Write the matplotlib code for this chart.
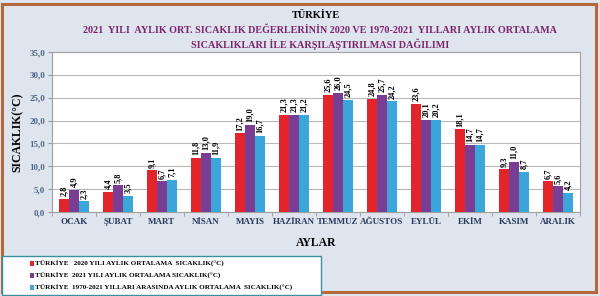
import matplotlib
matplotlib.use("Agg")
import matplotlib.pyplot as plt
from matplotlib.patches import Rectangle
import numpy as np

months = ["OCAK", "ŞUBAT", "MART", "NİSAN", "MAYIS", "HAZİRAN", "TEMMUZ",
          "AĞUSTOS", "EYLÜL", "EKİM", "KASIM", "ARALIK"]
t2020 = [2.8, 4.4, 9.1, 11.8, 17.2, 21.3, 25.6, 24.8, 23.6, 18.1, 9.3, 6.7]
t2021 = [4.9, 5.8, 6.7, 13.0, 19.0, 21.3, 26.0, 25.7, 20.1, 14.7, 11.0, 5.6]
tavg = [2.3, 3.5, 7.1, 11.9, 16.7, 21.2, 24.5, 24.2, 20.2, 14.7, 8.7, 4.2]
series_labels = ["TÜRKİYE   2020 YILI AYLIK ORTALAMA  SICAKLIK(°C)",
                 "TÜRKİYE  2021 YILI AYLIK ORTALAMA SICAKLIK(°C)",
                 "TÜRKİYE  1970-2021 YILLARI ARASINDA AYLIK ORTALAMA  SICAKLIK(°C)"]
colors = ["#e3242b", "#7a3d94", "#3aa6d9"]
yticks = [0, 5, 10, 15, 20, 25, 30, 35]

plt.rcParams['font.family'] = ['Liberation Serif', 'DejaVu Serif']

W, H = 600, 296
fig = plt.figure(figsize=(6, 2.96), dpi=100, facecolor="#dfe5ef")
fig.patches.append(Rectangle((0.004, 0.012), 0.99, 0.975, transform=fig.transFigure,
                             fill=False, edgecolor="#b5693a", linewidth=2.2))

ax = fig.add_axes([52 / W, 1 - 212 / H, (580 - 52) / W, (212 - 52) / H])
ax.set_facecolor("white")
x = np.arange(len(months))
bw = 0.23
for i, (vals, c) in enumerate(zip([t2020, t2021, tavg], colors)):
    pos = x + (i - 1) * bw
    ax.bar(pos, vals, width=bw, color=c, label=series_labels[i], zorder=3)
    for p, v in zip(pos, vals):
        ax.text(p, v + 0.6, f"{v:.1f}".replace(".", ","), rotation=90, ha="center",
                va="bottom", fontsize=6, fontweight="bold", color="black", zorder=4)

ax.set_xlim(-0.5, len(months) - 0.5)
ax.set_ylim(0, 35)
ax.set_yticks(yticks)
ax.set_yticklabels([f"{v:.1f}".replace(".", ",") for v in yticks], fontsize=6.5,
                   fontweight="bold", color="#4f6688")
ax.set_xticks(x)
ax.set_xticklabels(months, fontsize=6.5, fontweight="bold", color="#2a3a5a")
ax.set_xticks(np.arange(-0.5, len(months)), minor=True)
ax.tick_params(axis="x", which="major", length=0, pad=4)
ax.tick_params(axis="x", which="minor", length=3, color="#999999")
ax.tick_params(axis="y", length=3, color="#999999", pad=2)
ax.grid(axis="y", color="#b8b8b8", linewidth=0.8, zorder=0)
for s in ax.spines.values():
    s.set_color("#a0a0a0")
    s.set_linewidth(0.8)

ax.set_ylabel("SICAKLIK(°C)", fontsize=8.5, fontweight="bold", color="black", labelpad=4)
fig.text(316 / W, 1 - 243 / H, "AYLAR", ha="center", va="center", fontsize=8.5,
         fontweight="bold", color="black")

fig.text(316 / W, 1 - 15 / H, "TÜRKİYE", ha="center", va="center", fontsize=7.5,
         fontweight="bold", color="black")
fig.text(320 / W, 1 - 30 / H,
         "2021  YILI  AYLIK ORT. SICAKLIK DEĞERLERİNİN 2020 VE 1970-2021  YILLARI AYLIK ORTALAMA",
         ha="center", va="center", fontsize=7.3, fontweight="bold", color="#7b2468")
fig.text(320 / W, 1 - 44 / H, "SICAKLIKLARI İLE KARŞILAŞTIRILMASI DAĞILIMI",
         ha="center", va="center", fontsize=7.3, fontweight="bold", color="#7b2468")

# legend box
fig.patches.append(Rectangle((2 / W, 1 - 295 / H), (321 - 2) / W, (295 - 256) / H,
                             transform=fig.transFigure, facecolor="white",
                             edgecolor="#3a8fa0", linewidth=1.0, zorder=5))
handles, labels = ax.get_legend_handles_labels()
leg = fig.legend(handles, labels, loc="center left",
                 bbox_to_anchor=(30 / W, 1 - 276 / H),
                 fontsize=5.1, frameon=False,
                 handlelength=0.6, handleheight=0.85, handletextpad=0.15,
                 labelspacing=0.75, borderpad=0, borderaxespad=0)
leg.set_zorder(6)
for t in leg.get_texts():
    t.set_fontweight("bold")

fig.savefig("out.png", dpi=100, facecolor=fig.get_facecolor())
